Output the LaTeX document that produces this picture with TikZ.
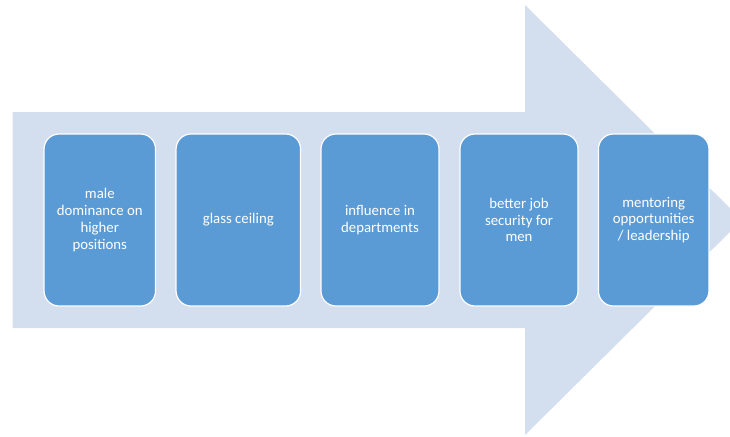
\documentclass[tikz,border=0pt]{standalone}
\usepackage{fontspec}
\setmainfont{Carlito}
\definecolor{arrowfill}{HTML}{D3DEEF}
\definecolor{boxfill}{HTML}{5B9BD5}
\begin{document}
\begin{tikzpicture}[x=1pt,y=-1pt,
  stage/.style={draw=white, line width=1.2pt, fill=boxfill, rounded corners=15pt,
    text=white, align=center, font=\fontsize{14.8}{16.8}\selectfont, inner sep=0pt,
    minimum height=172pt}]
\useasboundingbox (0,0) rectangle (730,436);
\clip (0,0) rectangle (730,436);
\fill[arrowfill] (12.5,112) -- (525,112) -- (525,5) -- (742,220) -- (525,435) -- (525,328) -- (12.5,328) -- cycle;
\node[stage, minimum width=111.5pt] (b1) at (99.8,220) {male\\dominance on\\higher\\positions};
\node[stage, minimum width=124.5pt] (b2) at (238.3,220) {glass ceiling};
\node[stage, minimum width=118pt] (b3) at (380,220) {influence in\\departments};
\node[stage, minimum width=118pt] (b4) at (519,220) {better job\\security for\\men};
\node[stage, minimum width=110.5pt] (b5) at (653.7,220) {mentoring\\opportunities\\/ leadership};
\end{tikzpicture}
\end{document}
